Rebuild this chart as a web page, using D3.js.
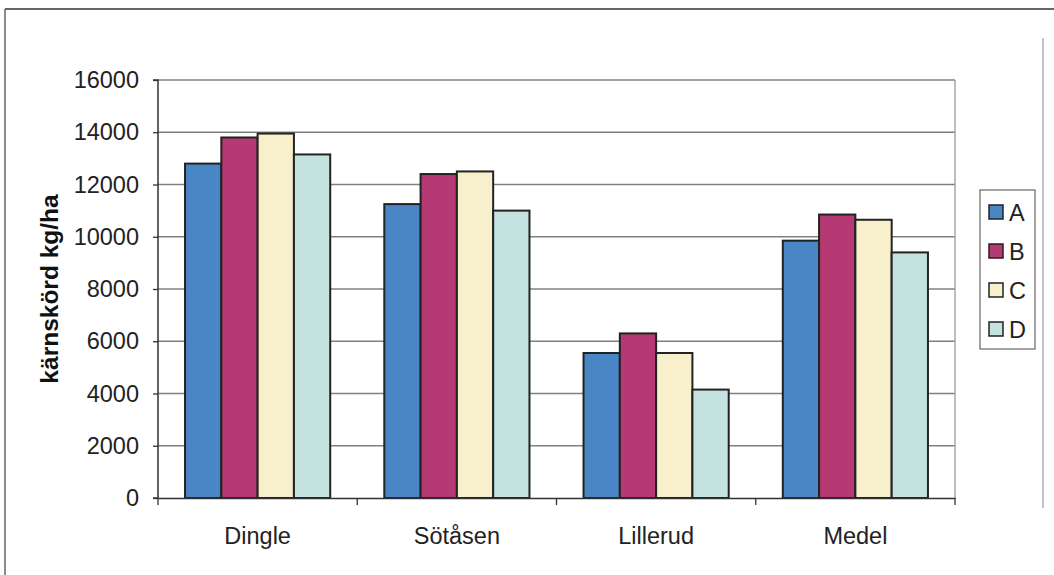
<!DOCTYPE html>
<html><head><meta charset="utf-8">
<script src="https://cdn.jsdelivr.net/npm/d3@7"></script>
<style>body{margin:0;background:#fff}svg{display:block;font-family:"Liberation Sans",Arial,sans-serif}</style>
</head><body>
<svg id="c" width="1054" height="575"></svg>
<script>
const categories = ["Dingle", "Sötåsen", "Lillerud", "Medel"];
const seriesNames = ["A", "B", "C", "D"];
const seriesA = [12800, 11250, 5550, 9850];
const seriesB = [13800, 12400, 6300, 10850];
const seriesC = [13950, 12500, 5550, 10650];
const seriesD = [13150, 11000, 4150, 9400];
const yTicks = [0, 2000, 4000, 6000, 8000, 10000, 12000, 14000, 16000];
const colors = ["#4a86c5", "#b53a73", "#f8f0cc", "#c3e2e0"];
const yLabel = "kärnskörd kg/ha";

const series = [seriesA, seriesB, seriesC, seriesD];
const svg = d3.select("#c");
const L = 158, R = 955, T = 80, B = 498;
const FS = 23.5;

// outer frame
svg.append("line").attr("x1", 5).attr("x2", 1054).attr("y1", 9).attr("y2", 9).attr("stroke", "#666").attr("stroke-width", 2);
svg.append("line").attr("x1", 5).attr("x2", 5).attr("y1", 9).attr("y2", 575).attr("stroke", "#666").attr("stroke-width", 1.5);
svg.append("line").attr("x1", 1043).attr("x2", 1043).attr("y1", 38).attr("y2", 508).attr("stroke", "#888").attr("stroke-width", 1);

const x = d3.scaleBand().domain(categories).range([L, R]).paddingInner(0).paddingOuter(0);
const x1 = d3.scaleBand().domain(seriesNames).range([0, x.bandwidth()]).paddingInner(0).paddingOuter(0.745);
const y = d3.scaleLinear().domain([0, 16000]).range([B, T]);

// gridlines
svg.append("g").selectAll("line").data(yTicks.filter(d => d > 0)).join("line")
  .attr("x1", L).attr("x2", R).attr("y1", d => y(d)).attr("y2", d => y(d))
  .attr("stroke", "#808080").attr("stroke-width", 1.3);
// right border of plot
svg.append("line").attr("x1", R).attr("x2", R).attr("y1", T).attr("y2", B).attr("stroke", "#999").attr("stroke-width", 1.3);

// bars
const g = svg.append("g");
categories.forEach((c, i) => {
  series.forEach((s, j) => {
    g.append("rect")
      .attr("x", x(c) + x1(seriesNames[j]))
      .attr("y", y(s[i]))
      .attr("width", x1.bandwidth())
      .attr("height", y(0) - y(s[i]))
      .attr("fill", colors[j])
      .attr("stroke", "#222").attr("stroke-width", 2);
  });
});

// y axis
const yAxis = d3.axisLeft(y).tickValues(yTicks).tickSize(5).tickPadding(14).tickFormat(d3.format("d"));
const ya = svg.append("g").attr("transform", `translate(${L},0)`).call(yAxis);
ya.select(".domain").attr("stroke", "#333").attr("stroke-width", 1.5).attr("d", `M-5,${T}H0V${B}H-5`);
ya.selectAll(".tick line").attr("stroke", "#333").attr("stroke-width", 1.3);
ya.selectAll("text").attr("font-size", FS).attr("fill", "#222").style("font-family", "Liberation Sans, Arial, sans-serif");

// x axis
const xAxis = d3.axisBottom(x).tickSize(0).tickPadding(29);
const xa = svg.append("g").attr("transform", `translate(0,${B})`).call(xAxis);
xa.select(".domain").attr("stroke", "#333").attr("stroke-width", 1.5);
xa.selectAll("text").attr("font-size", FS).attr("fill", "#222").style("font-family", "Liberation Sans, Arial, sans-serif");
svg.append("g").selectAll("line").data(d3.range(categories.length + 1)).join("line")
  .attr("x1", d => L + d * x.bandwidth()).attr("x2", d => L + d * x.bandwidth())
  .attr("y1", B).attr("y2", B + 7).attr("stroke", "#333").attr("stroke-width", 1.3);

// y label
svg.append("text").attr("transform", `translate(58,${(T + B) / 2}) rotate(-90)`)
  .attr("text-anchor", "middle").attr("font-size", 24.5).attr("font-weight", "bold").attr("fill", "#111").text(yLabel);

// legend
const lg = svg.append("g");
lg.append("rect").attr("x", 980).attr("y", 190).attr("width", 55).attr("height", 159)
  .attr("fill", "#fff").attr("stroke", "#666").attr("stroke-width", 1.2);
seriesNames.forEach((n, i) => {
  const cy = 212 + i * 39;
  lg.append("rect").attr("x", 989).attr("y", cy - 7).attr("width", 14).attr("height", 14)
    .attr("fill", colors[i]).attr("stroke", "#222").attr("stroke-width", 1.5);
  lg.append("text").attr("x", 1009).attr("y", cy + 9).attr("font-size", FS).attr("fill", "#222").text(n);
});
</script>
</body></html>
